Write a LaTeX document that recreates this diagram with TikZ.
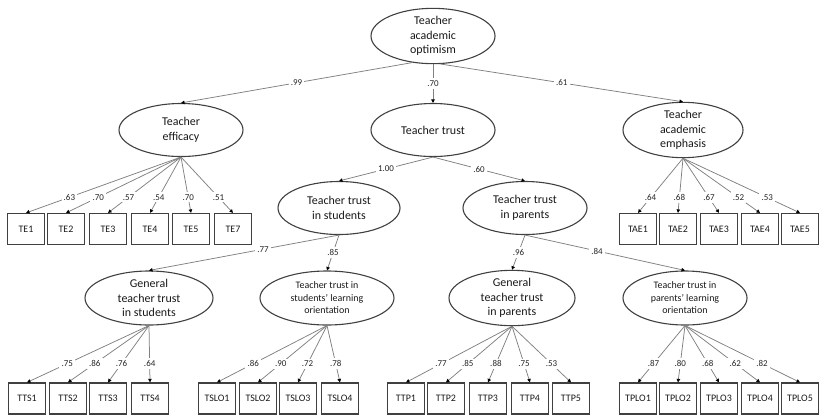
\documentclass[tikz,border=0pt]{standalone}
\usepackage{fontspec}
\setmainfont{Carlito}
\usetikzlibrary{shapes.geometric,arrows.meta}
\begin{document}
\begin{tikzpicture}[x=1bp,y=-1bp,
 lat/.style={ellipse,draw=black!75,line width=1.1bp,inner sep=0pt,align=center,text=black!90,font=\fontsize{12}{14.5}\selectfont},
 slat/.style={lat,font=\fontsize{10}{12.5}\selectfont},
 obs/.style={rectangle,draw=black!75,line width=1.2bp,minimum width=37bp,minimum height=31bp,inner sep=0pt,text=black!90,font=\fontsize{10}{11}\selectfont},
 ld/.style={draw=black!50,line width=0.75bp,-{Triangle[length=3.5bp,width=3.5bp,color=black]}},
 lab/.style={fill=white,inner sep=2.2bp,text=black!85,font=\fontsize{9}{10}\selectfont}]
\useasboundingbox (0,0) rectangle (819,415);
% latent variables
\node[lat,minimum width=124bp,minimum height=54bp] (tao) at (433,36) {Teacher\\academic\\optimism};
\node[lat,minimum width=124bp,minimum height=53bp] (te) at (181,130) {Teacher\\efficacy};
\node[lat,minimum width=124bp,minimum height=53bp] (tt) at (433,130) {Teacher trust};
\node[lat,minimum width=120bp,minimum height=54bp] (tae) at (683,130) {Teacher\\academic\\emphasis};
\node[lat,minimum width=122bp,minimum height=53bp] (tts) at (339,208) {Teacher trust\\in students};
\node[lat,minimum width=124bp,minimum height=53bp] (ttp) at (525,208) {Teacher trust\\in parents};
\node[lat,minimum width=128bp,minimum height=54bp] (gts) at (149,298) {General\\teacher trust\\in students};
\node[slat,minimum width=134bp,minimum height=54bp] (tsl) at (327,298) {Teacher trust in\\students’ learning\\orientation};
\node[lat,minimum width=126bp,minimum height=54bp] (gtp) at (512,298) {General\\teacher trust\\in parents};
\node[slat,minimum width=124bp,minimum height=54bp] (tpl) at (685,298) {Teacher trust in\\parents’ learning\\orientation};
% observed: top row
\node[obs] (te1) at (26,229) {TE1};
\node[obs] (te2) at (66,229) {TE2};
\node[obs] (te3) at (108,229) {TE3};
\node[obs] (te4) at (150,229) {TE4};
\node[obs] (te5) at (191,229) {TE5};
\node[obs] (te7) at (233,229) {TE7};
\node[obs] (tae1) at (638,229) {TAE1};
\node[obs] (tae2) at (678,229) {TAE2};
\node[obs] (tae3) at (719,229) {TAE3};
\node[obs] (tae4) at (760,229) {TAE4};
\node[obs] (tae5) at (800,229) {TAE5};
% observed: bottom row
\node[obs] (tts1) at (27,398.5) {TTS1};
\node[obs] (tts2) at (68,398.5) {TTS2};
\node[obs] (tts3) at (108,398.5) {TTS3};
\node[obs] (tts4) at (150,398.5) {TTS4};
\node[obs] (tslo1) at (217,398.5) {TSLO1};
\node[obs] (tslo2) at (258,398.5) {TSLO2};
\node[obs] (tslo3) at (298,398.5) {TSLO3};
\node[obs] (tslo4) at (340,398.5) {TSLO4};
\node[obs] (ttp1) at (406,398.5) {TTP1};
\node[obs] (ttp2) at (446,398.5) {TTP2};
\node[obs] (ttp3) at (488,398.5) {TTP3};
\node[obs] (ttp4) at (530,398.5) {TTP4};
\node[obs] (ttp5) at (571,398.5) {TTP5};
\node[obs] (tplo1) at (638,398.5) {TPLO1};
\node[obs] (tplo2) at (678,398.5) {TPLO2};
\node[obs] (tplo3) at (719,398.5) {TPLO3};
\node[obs] (tplo4) at (760,398.5) {TPLO4};
\node[obs] (tplo5) at (800,398.5) {TPLO5};
% structural paths
\draw[ld] (tao.232) -- node[lab]{.99} (te.north);
\draw[ld] (tao.south) -- node[lab]{.70} (tt.north);
\draw[ld] (tao.285) -- node[lab]{.61} (tae.north);
\draw[ld] (tt.south) -- node[lab]{1.00} (tts.north);
\draw[ld] (tt.south) -- node[lab]{.60} (ttp.north);
\draw[ld] (tts.south) -- node[lab,pos=0.4]{.77} (gts.north);
\draw[ld] (tts.south) -- node[lab]{.85} (tsl.north);
\draw[ld] (ttp.south) -- node[lab]{.96} (gtp.north);
\draw[ld] (ttp.south) -- node[lab,pos=0.45]{.84} (tpl.north);
% loadings top row
\foreach \t/\v in {te1/.63,te2/.70,te3/.57,te4/.54,te5/.70,te7/.51}
  \draw[ld] (te.south) -- node[lab,pos=0.72]{\v} (\t.north);
\foreach \t/\v in {tae1/.64,tae2/.68,tae3/.67,tae4/.52,tae5/.53}
  \draw[ld] (tae.south) -- node[lab,pos=0.72]{\v} (\t.north);
% loadings bottom row
\foreach \t/\v in {tts1/.75,tts2/.86,tts3/.76,tts4/.64}
  \draw[ld] (gts.south) -- node[lab,pos=0.67]{\v} (\t.north);
\foreach \t/\v in {tslo1/.86,tslo2/.90,tslo3/.72,tslo4/.78}
  \draw[ld] (tsl.south) -- node[lab,pos=0.67]{\v} (\t.north);
\foreach \t/\v in {ttp1/.77,ttp2/.85,ttp3/.88,ttp4/.75,ttp5/.53}
  \draw[ld] (gtp.south) -- node[lab,pos=0.67]{\v} (\t.north);
\foreach \t/\v in {tplo1/.87,tplo2/.80,tplo3/.68,tplo4/.62,tplo5/.82}
  \draw[ld] (tpl.south) -- node[lab,pos=0.67]{\v} (\t.north);
\end{tikzpicture}
\end{document}
